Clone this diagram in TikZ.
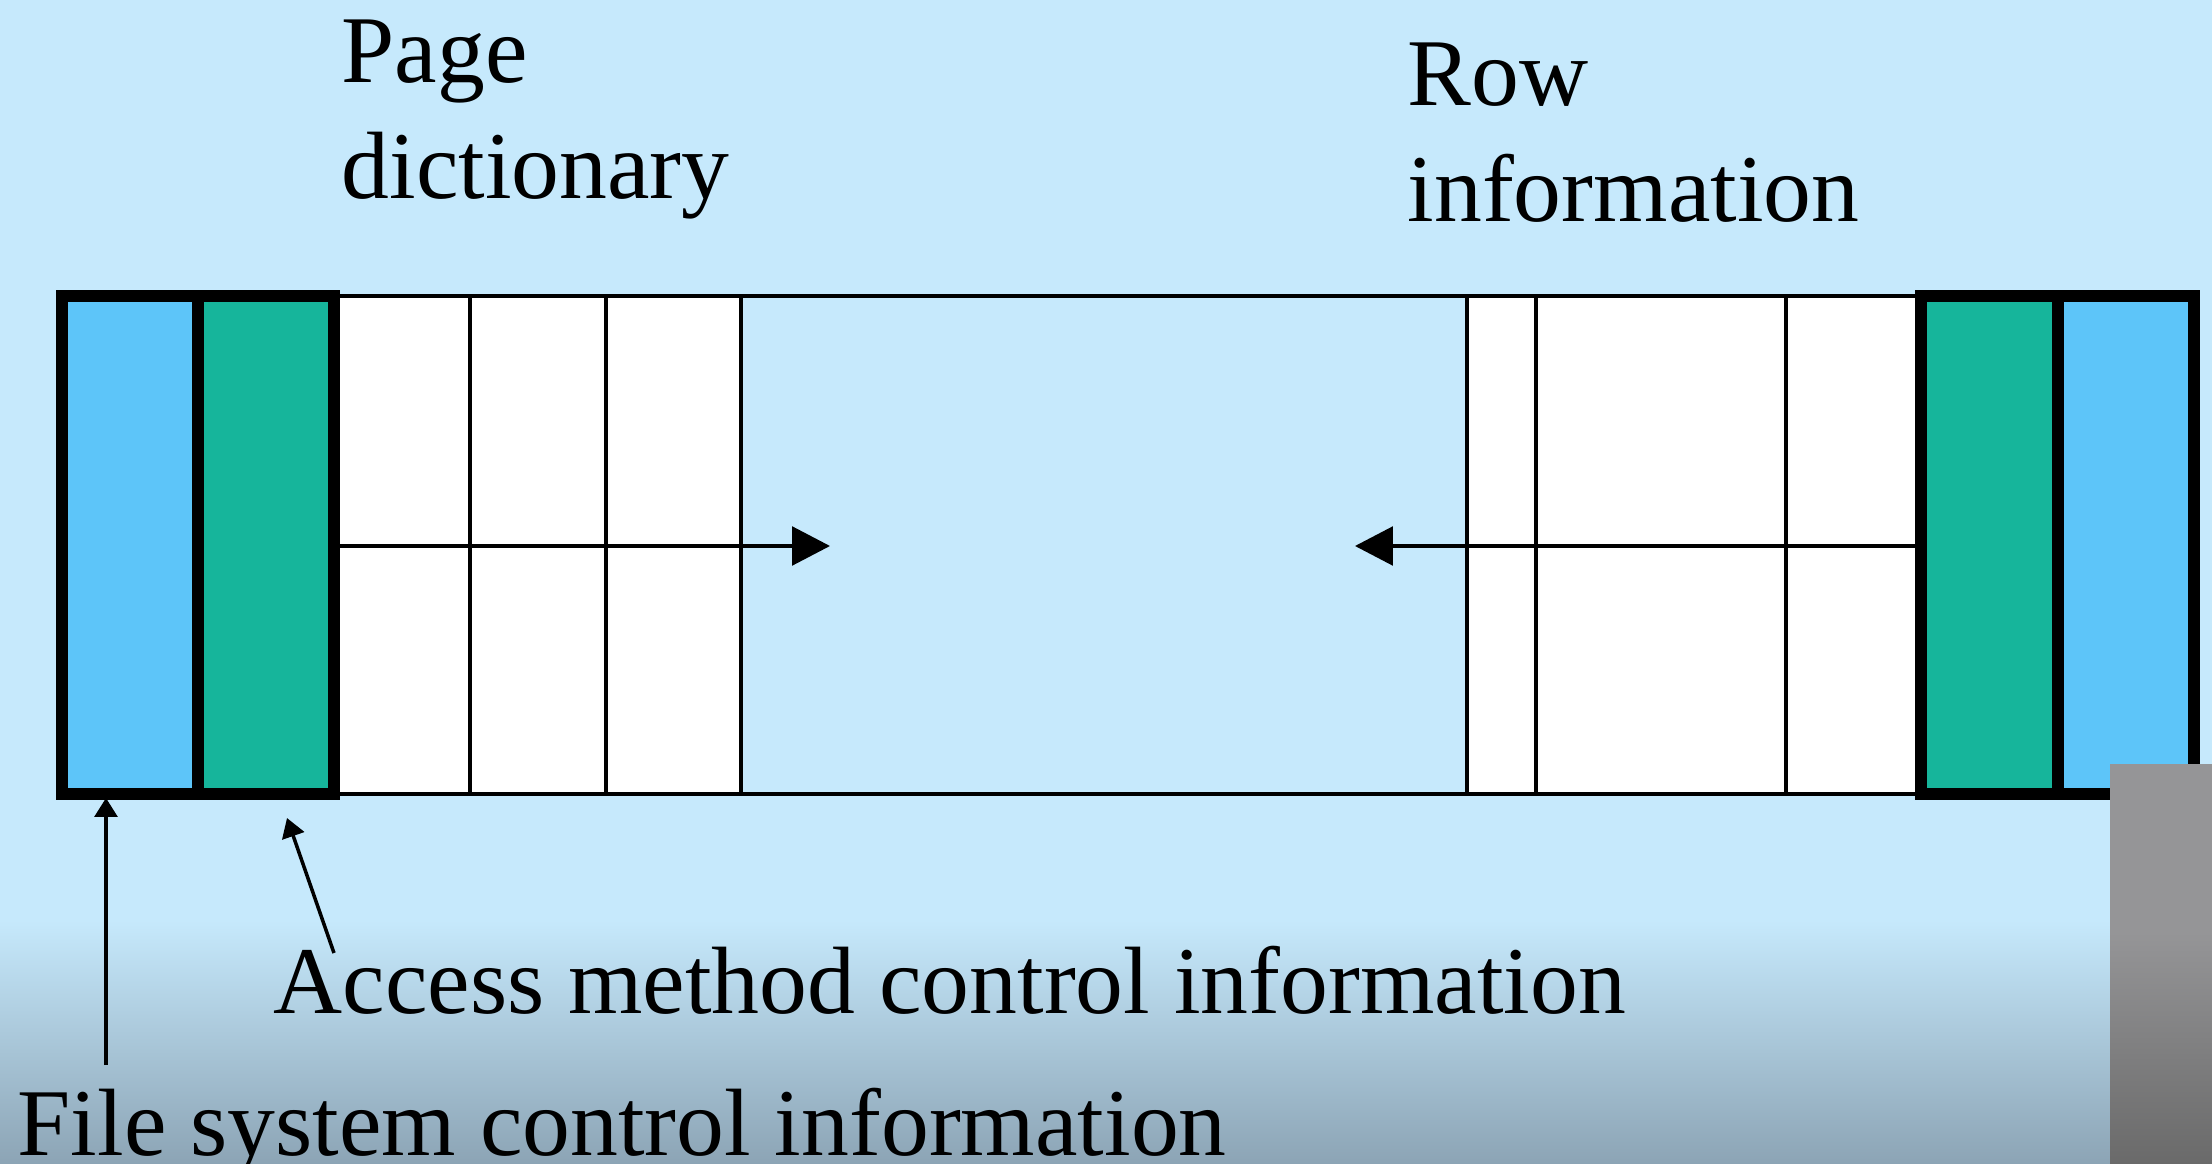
\documentclass[tikz,border=0pt]{standalone}
\usepackage{fontspec}
\setmainfont{Liberation Serif}
\usetikzlibrary{arrows.meta}

\definecolor{slidebg}{HTML}{C6E9FC}
\definecolor{slidelow}{HTML}{8CA4B5}
\definecolor{fsblue}{HTML}{5DC5F9}
\definecolor{amgreen}{HTML}{16B59B}
\definecolor{grayA}{HTML}{959597}
\definecolor{grayB}{HTML}{6A6A6A}

\tikzset{
  lbl/.style={anchor=base west, inner sep=0pt, align=left,
    font=\fontsize{27.2}{33}\selectfont},
  ctrl/.style={line width=3.4pt},
  cell/.style={line width=1pt},
  growarrow/.style={-{Triangle[length=10.8pt,width=11pt]}, line width=1pt},
  pointer/.style={-{Triangle[length=5.4pt,width=6.5pt]}, line width=1pt}
}

\begin{document}
\begin{tikzpicture}[x=0.01cm,y=-0.01cm]
    \useasboundingbox (0,0) rectangle (2212,1164);
    % Background
    \fill[slidebg] (0,0) rectangle (2212,1164);
    \shade[top color=slidebg, bottom color=slidelow] (0,920) rectangle (2212,1164);
    % Dictionary and row cells
    \fill[white] (334,296) rectangle (741,794);
    \fill[white] (1467,296) rectangle (1921,794);
    \draw[cell] (334,296) -- (1921,296) (334,794) -- (1921,794);
    \foreach \x in {470,606,741,1467,1536,1786}
        \draw[cell] (\x,296) -- (\x,794);
    % Control information, both ends
    \filldraw[ctrl, fill=fsblue] (62,296) rectangle (198,794);
    \filldraw[ctrl, fill=amgreen] (198,296) rectangle (334,794);
    \filldraw[ctrl, fill=amgreen] (1921,296) rectangle (2058,794);
    \filldraw[ctrl, fill=fsblue] (2058,296) rectangle (2194,794);
    % Growth of the two areas
    \coordinate (dictEnd) at (334,546);
    \coordinate (dictTip) at (830,546);
    \coordinate (rowEnd) at (1921,546);
    \coordinate (rowTip) at (1355,546);
    \draw[growarrow] (dictEnd) -- (dictTip);
    \draw[growarrow] (rowEnd) -- (rowTip);
    % Labels (base = last line)
    \node (dict) at (341,199) [lbl] {Page\\dictionary};
    \node (row) at (1407,222) [lbl] {Row\\information};
    \node (amTxt) at (273,1013) [lbl] {Access method control information};
    \node (fsTxt) at (17,1155) [lbl] {File system control information};
    % Pointers
    \coordinate (fsTail) at (106,1065);
    \coordinate (fsTip) at (106,798);
    \coordinate (amTail) at (334,953);
    \coordinate (amTip) at (287,818);
    \draw[pointer] (fsTail) -- (fsTip);
    \draw[pointer] (amTail) -- (amTip);
    % Corner overlay
    \fill[grayA] (2110,764) rectangle (2212,933);
    \shade[top color=grayA, bottom color=grayB] (2110,932) rectangle (2212,1164);
\end{tikzpicture}
\end{document}
